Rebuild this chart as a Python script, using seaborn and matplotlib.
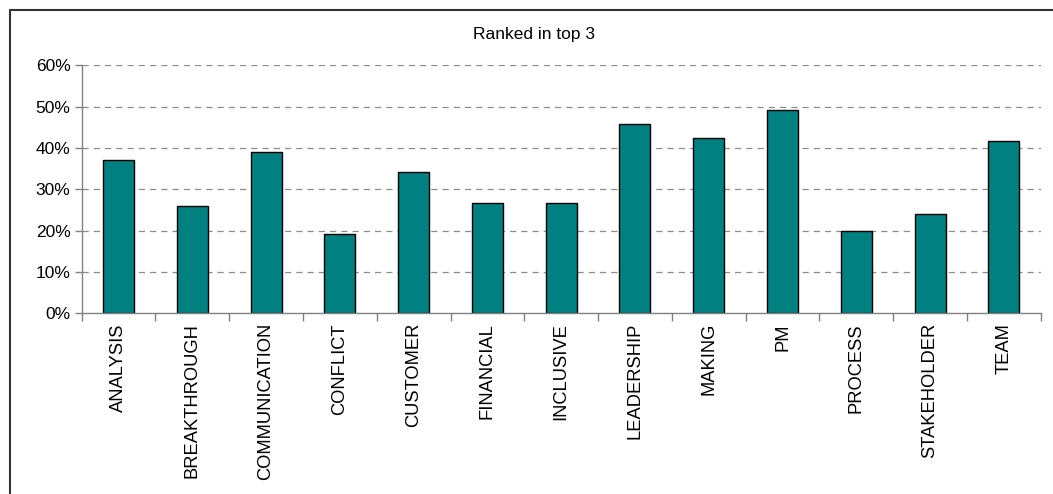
import matplotlib
matplotlib.use("Agg")
import matplotlib.pyplot as plt
import seaborn as sns
import pandas as pd
import numpy as np
from matplotlib.patches import Rectangle
from matplotlib.ticker import PercentFormatter, FixedLocator, NullFormatter

categories = ["ANALYSIS", "BREAKTHROUGH", "COMMUNICATION", "CONFLICT", "CUSTOMER",
              "FINANCIAL", "INCLUSIVE", "LEADERSHIP", "MAKING", "PM", "PROCESS",
              "STAKEHOLDER", "TEAM"]
values = [0.37, 0.26, 0.39, 0.191, 0.342, 0.268, 0.268, 0.458, 0.425, 0.491,
          0.199, 0.240, 0.418]
yticks = [0, 0.1, 0.2, 0.3, 0.4, 0.5, 0.6]
title = "Ranked in top 3"

sns.set_theme(style="white")
plt.rcParams['font.family'] = ['Liberation Sans', 'DejaVu Sans']

W, H = 1053, 494
fig = plt.figure(figsize=(W / 100, H / 100), dpi=100)
ax = fig.add_axes([81.7 / W, 1 - 313.3 / H, (1040.7 - 81.7) / W, (313.3 - 65.3) / H])

df = pd.DataFrame({"cat": categories, "val": values})
sns.barplot(data=df, x="cat", y="val", color="#008080", edgecolor="black",
            linewidth=1.0, width=0.42, saturation=1, ax=ax)

ax.set_xlim(-0.5, len(categories) - 0.5)
ax.set_ylim(0, 0.6)
ax.set_yticks(yticks)
ax.yaxis.set_major_formatter(PercentFormatter(1.0, decimals=0))
ax.set_xlabel("")
ax.set_ylabel("")
for y in yticks[1:]:
    ax.axhline(y, color="#8c8c8c", linestyle=(0, (5, 4)), linewidth=0.9, zorder=0)

ax.tick_params(axis="y", which="major", direction="out", length=5, width=1,
               color="#808080", labelsize=12.5, labelcolor="black", pad=3, left=True)
ax.tick_params(axis="x", which="major", length=0, labelsize=13.2, labelrotation=90,
               labelcolor="black", pad=7)
ax.xaxis.set_minor_locator(FixedLocator(np.arange(-0.5, len(categories), 1.0)))
ax.xaxis.set_minor_formatter(NullFormatter())
ax.tick_params(axis="x", which="minor", direction="out", length=6, width=1,
               color="#808080", bottom=True)

for s in ["top", "right"]:
    ax.spines[s].set_visible(False)
for s in ["left", "bottom"]:
    ax.spines[s].set_color("#808080")
    ax.spines[s].set_linewidth(1.0)
ax.set_axisbelow(True)

fig.text(534 / W, 1 - 35 / H, title, ha="center", va="center", fontsize=12.5, color="black")

fig.patches.append(Rectangle((10 / W, -0.1), 1.2, 1 - 10 / H + 0.1, transform=fig.transFigure,
                             fill=False, edgecolor="#333333", linewidth=1.5))

fig.savefig("out.png", dpi=100, facecolor="white")
